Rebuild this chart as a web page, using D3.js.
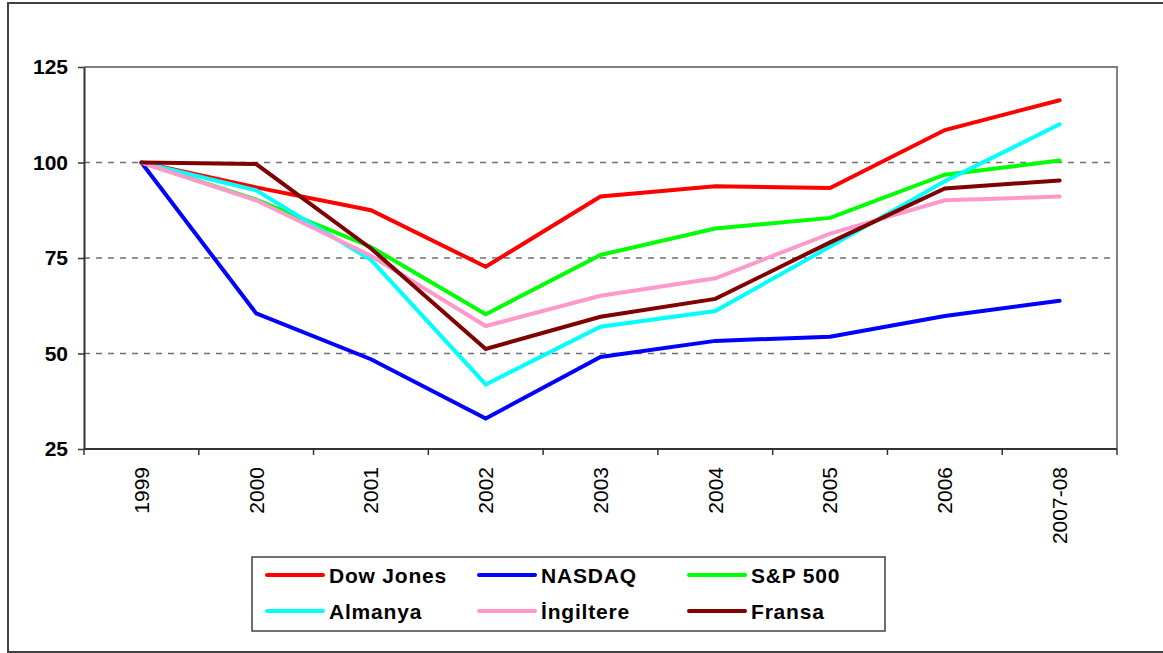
<!DOCTYPE html>
<html>
<head>
<meta charset="utf-8">
<script src="https://cdn.jsdelivr.net/npm/d3@7"></script>
<style>
  body { margin: 0; background: #fff; }
  svg { display: block; font-family: "Liberation Sans", Arial, sans-serif; }
</style>
</head>
<body>
<svg id="chart" width="1163" height="653"></svg>
<script>
// data
var years = ["1999", "2000", "2001", "2002", "2003", "2004", "2005", "2006", "2007-08"];
var yTicks = [25, 50, 75, 100, 125];
var gridTicks = [50, 75, 100];

var dowJones  = [100, 93.5, 87.5, 72.7, 91.1, 93.8, 93.3, 108.5, 116.3];
var nasdaq    = [100, 60.5, 48.5, 33.0, 49.1, 53.3, 54.4, 59.8, 63.8];
var sp500     = [100, 90.3, 77.9, 60.3, 75.8, 82.7, 85.5, 96.8, 100.5];
var almanya   = [100, 92.7, 74.5, 41.9, 57.0, 61.1, 78.0, 95.1, 110.0];
var ingiltere = [100, 90.1, 75.6, 57.2, 65.1, 69.7, 81.4, 90.1, 91.1];
var fransa    = [100, 99.6, 77.5, 51.2, 59.6, 64.3, 79.1, 93.2, 95.3];

var seriesNames = ["Dow Jones", "NASDAQ", "S&P 500", "Almanya", "İngiltere", "Fransa"];
var seriesValues = [dowJones, nasdaq, sp500, almanya, ingiltere, fransa];
var seriesColors = ["#ff0000", "#0000ff", "#00ff00", "#00ffff", "#ff99cc", "#800000"];

var svg = d3.select("#chart");

// outer frame
svg.append("rect")
  .attr("x", 8).attr("y", 3)
  .attr("width", 1165).attr("height", 649)
  .attr("fill", "none")
  .attr("stroke", "#404040")
  .attr("stroke-width", 2);

var pLeft = 84, pRight = 1117, pTop = 67, pBottom = 449;

var x = d3.scaleBand().domain(years).range([pLeft, pRight]);
var y = d3.scaleLinear().domain([25, 125]).range([pBottom, pTop]);

// plot area border (top/right)
svg.append("path")
  .attr("d", `M${pLeft},${pTop}H${pRight}V${pBottom}`)
  .attr("fill", "none")
  .attr("stroke", "#808080")
  .attr("stroke-width", 2);

// dashed gridlines
svg.append("g")
  .selectAll("line")
  .data(gridTicks)
  .join("line")
    .attr("x1", pLeft).attr("x2", pRight)
    .attr("y1", d => y(d)).attr("y2", d => y(d))
    .attr("stroke", "#707070")
    .attr("stroke-width", 1.5)
    .attr("stroke-dasharray", "6,6");

// y axis
var yAxis = svg.append("g")
  .attr("transform", `translate(${pLeft},0)`)
  .call(d3.axisLeft(y).tickValues(yTicks).tickSize(6).tickSizeOuter(0));
yAxis.select(".domain").attr("stroke", "#333").attr("stroke-width", 2);
yAxis.selectAll(".tick line").attr("stroke", "#333").attr("stroke-width", 1.5);
yAxis.selectAll(".tick text")
  .attr("x", -16)
  .attr("font-size", 21)
  .attr("font-weight", "bold")
  .attr("font-family", "Liberation Sans, Arial, sans-serif")
  .attr("fill", "#000");

// x axis with ticks at category boundaries
var xAxis = svg.append("g")
  .attr("transform", `translate(0,${pBottom})`);
xAxis.append("line")
  .attr("x1", pLeft).attr("x2", pRight)
  .attr("stroke", "#333").attr("stroke-width", 2);
xAxis.selectAll(".xt")
  .data(years.concat(["end"]))
  .join("line")
    .attr("class", "xt")
    .attr("x1", (d, i) => pLeft + i * x.step())
    .attr("x2", (d, i) => pLeft + i * x.step())
    .attr("y1", 0).attr("y2", 6)
    .attr("stroke", "#333").attr("stroke-width", 1.5);
xAxis.selectAll("text")
  .data(years)
  .join("text")
    .attr("transform", d => `translate(${x(d) + x.bandwidth() / 2},18) rotate(-90)`)
    .attr("text-anchor", "end")
    .attr("dy", "0.35em")
    .attr("font-size", 21)
    .attr("fill", "#000")
    .text(d => d);

// series lines
var line = d3.line()
  .x((d, i) => x(years[i]) + x.bandwidth() / 2)
  .y(d => y(d));

svg.append("g")
  .selectAll("path")
  .data(seriesValues)
  .join("path")
    .attr("d", line)
    .attr("fill", "none")
    .attr("stroke", (d, i) => seriesColors[i])
    .attr("stroke-width", 4)
    .attr("stroke-linejoin", "miter")
    .attr("stroke-linecap", "round");

// legend
var legend = svg.append("g");
legend.append("rect")
  .attr("x", 252).attr("y", 557)
  .attr("width", 633).attr("height", 74)
  .attr("fill", "#fff")
  .attr("stroke", "#404040")
  .attr("stroke-width", 1.5);

var colX = [267, 479, 689];
var rowY = [575, 611];
var items = legend.selectAll(".item")
  .data(seriesNames)
  .join("g")
    .attr("class", "item")
    .attr("transform", (d, i) => `translate(${colX[i % 3]},${rowY[Math.floor(i / 3)]})`);
items.append("line")
  .attr("x1", 0).attr("x2", 56)
  .attr("stroke", (d, i) => seriesColors[i])
  .attr("stroke-width", 4)
  .attr("stroke-linecap", "round");
items.append("text")
  .attr("x", 62)
  .attr("dy", "0.36em")
  .attr("font-size", 21)
  .attr("font-weight", "bold")
  .attr("letter-spacing", 0.8)
  .attr("fill", "#000")
  .text(d => d);
</script>
</body>
</html>
